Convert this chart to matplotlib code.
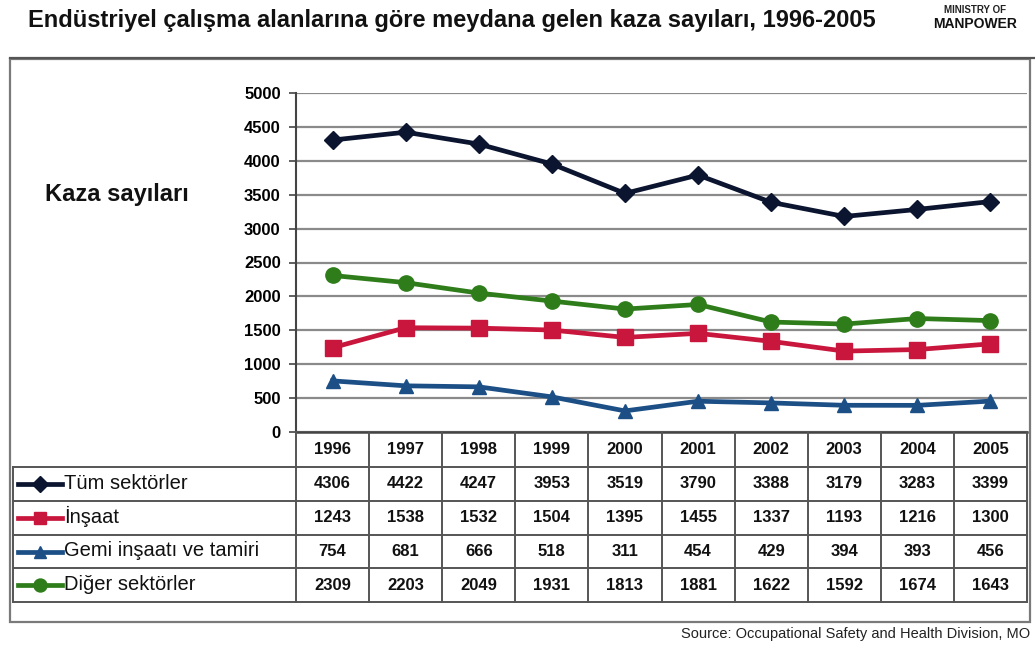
import matplotlib
matplotlib.use("Agg")
import matplotlib.pyplot as plt
from matplotlib.lines import Line2D
from matplotlib.patches import Rectangle

plt.rcParams['font.family'] = ['Liberation Sans', 'DejaVu Sans']

years = [1996, 1997, 1998, 1999, 2000, 2001, 2002, 2003, 2004, 2005]
tum = [4306, 4422, 4247, 3953, 3519, 3790, 3388, 3179, 3283, 3399]
insaat = [1243, 1538, 1532, 1504, 1395, 1455, 1337, 1193, 1216, 1300]
gemi = [754, 681, 666, 518, 311, 454, 429, 394, 393, 456]
diger = [2309, 2203, 2049, 1931, 1813, 1881, 1622, 1592, 1674, 1643]

names = ["Tüm sektörler", "İnşaat", "Gemi inşaatı ve tamiri", "Diğer sektörler"]
series = [tum, insaat, gemi, diger]
colors = ["#0b1530", "#c8163c", "#1c4f86", "#2f7d1a"]
markers = ["D", "s", "^", "o"]
msizes = [9, 11, 10, 11]

W, H = 1035, 648
fig = plt.figure(figsize=(W / 100, H / 100), dpi=100)


def fx(px):
    return px / W


def fy(py):
    return 1 - py / H


# plot area in pixels
L, R, T, B = 296, 1027, 93, 432
ax = fig.add_axes([fx(L), fy(B), fx(R) - fx(L), fy(T) - fy(B)])
ax.set_xlim(-0.5, len(years) - 0.5)
ax.set_ylim(0, 5000)
ax.set_yticks(range(0, 5001, 500))
ax.set_xticks([])
ax.grid(axis='y', color='#8a8a8a', lw=1.6)
ax.set_axisbelow(True)
for s in ['top', 'right']:
    ax.spines[s].set_visible(False)
ax.spines['left'].set_color('#444444')
ax.spines['left'].set_linewidth(1.5)
ax.spines['bottom'].set_color('#444444')
ax.spines['bottom'].set_linewidth(1.8)
ax.tick_params(axis='y', length=5, width=1.2, color='#444444', pad=6,
               labelsize=12)
for lab in ax.get_yticklabels():
    lab.set_fontweight('bold')

xs = list(range(len(years)))
for vals, c, m, ms in zip(series, colors, markers, msizes):
    ax.plot(xs, vals, color=c, lw=3.4, marker=m, markersize=ms,
            markeredgecolor=c, clip_on=False, zorder=3)

# outer frame and title rule
fig.add_artist(Rectangle((fx(10), fy(622)), fx(1030) - fx(10), fy(59) - fy(622),
                         transform=fig.transFigure, fill=False,
                         edgecolor='#7a7a7a', lw=1.6))
fig.add_artist(Line2D([fx(10), fx(1035)], [fy(58), fy(58)],
                      transform=fig.transFigure, color='#555555', lw=1.6))

# table
colw = (R - L) / len(years)
row_y = [432, 467, 501, 535, 568, 602]
tc = '#555555'
for y in row_y[1:]:
    fig.add_artist(Line2D([fx(13), fx(R)], [fy(y), fy(y)],
                          transform=fig.transFigure, color=tc, lw=1.4))
fig.add_artist(Line2D([fx(13), fx(13)], [fy(row_y[1]), fy(row_y[-1])],
                      transform=fig.transFigure, color=tc, lw=1.4))
for j in range(len(years) + 1):
    x = L + j * colw
    fig.add_artist(Line2D([fx(x), fx(x)], [fy(row_y[0]), fy(row_y[-1])],
                          transform=fig.transFigure, color=tc, lw=1.4))

for j, yr in enumerate(years):
    cx = L + (j + 0.5) * colw
    fig.text(fx(cx), fy((row_y[0] + row_y[1]) / 2), str(yr), ha='center',
             va='center', fontsize=12, fontweight='bold', color='#111111')
    for r, vals in enumerate(series):
        cy = (row_y[r + 1] + row_y[r + 2]) / 2
        fig.text(fx(cx), fy(cy), str(vals[j]), ha='center', va='center',
                 fontsize=12, fontweight='bold', color='#111111')

for r, (nm, c, m, ms) in enumerate(zip(names, colors, markers, msizes)):
    cy = (row_y[r + 1] + row_y[r + 2]) / 2
    fig.add_artist(Line2D([fx(18), fx(62)], [fy(cy), fy(cy)],
                          transform=fig.transFigure, color=c, lw=3.4))
    fig.add_artist(Line2D([fx(40)], [fy(cy)], transform=fig.transFigure,
                          color=c, marker=m, markersize=ms * 0.85,
                          markeredgecolor=c))
    fig.text(fx(64), fy(cy + 5), nm, ha='left', va='baseline', fontsize=14.5,
             color='#111111')

# texts
fig.text(fx(28), fy(20), "Endüstriyel çalışma alanlarına göre meydana gelen kaza sayıları, 1996-2005",
         ha='left', va='center', fontsize=17, fontweight='bold', color='#111111')
fig.text(fx(975), fy(10), "MINISTRY OF", ha='center', va='center',
         fontsize=7, fontweight='bold', color='#222222')
fig.text(fx(975), fy(24), "MANPOWER", ha='center', va='center',
         fontsize=10, fontweight='bold', color='#111111')
fig.text(fx(45), fy(195), "Kaza sayıları", ha='left', va='center',
         fontsize=17, fontweight='bold', color='#111111')
fig.text(fx(1030), fy(634), "Source: Occupational Safety and Health Division, MO",
         ha='right', va='center', fontsize=10.5, color='#222222')

fig.savefig("out.png", dpi=100, facecolor='white')
